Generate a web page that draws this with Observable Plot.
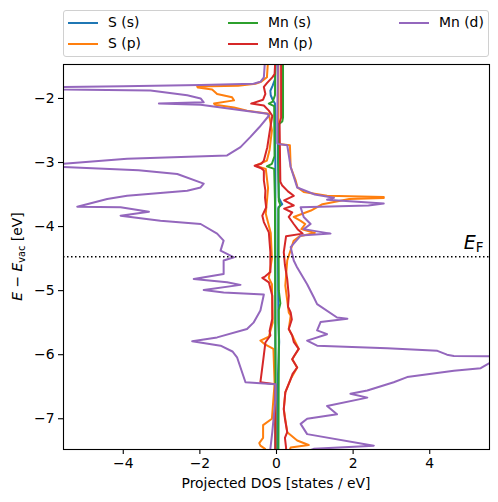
<!DOCTYPE html>
<html>
<head>
<meta charset="utf-8">
<script src="https://cdn.jsdelivr.net/npm/d3@7"></script>
<script src="https://cdn.jsdelivr.net/npm/@observablehq/plot@0.6"></script>
<style>
  body { margin: 0; background: #fff; }
  #wrap { position: relative; width: 498px; height: 502px; font-family: "DejaVu Sans", sans-serif; }
  #legend { position: absolute; left: 63px; top: 10px; width: 424px; height: 45px;
            border: 1px solid #d0d0d0; border-radius: 3px; background: rgba(255,255,255,0.8); box-sizing: content-box; }
  .item { position: absolute; height: 16px; }
  .swatch { position: absolute; left: 0; top: 7px; width: 30px; height: 2px; }
  .label { position: absolute; left: 40px; top: -1px; font-size: 13.9px; line-height: 16px; white-space: nowrap; color: #000; }
</style>
</head>
<body>
<div id="wrap"><div id="legend"></div></div>
<script>
// ---------------- data ----------------
const seriesNames = ["S (s)", "S (p)", "Mn (s)", "Mn (p)", "Mn (d)"];
const seriesColors = ["#1f77b4", "#ff7f0e", "#2ca02c", "#d62728", "#9467bd"];
const xTicks = [-4, -2, 0, 2, 4];
const yTicks = [-7, -6, -5, -4, -3, -2];
const fermiLevel = -4.47;

// each point: [energy (eV), projected DOS]; positive = spin up, negative = spin down
const S_s_up = [[-1.40,0.04],[-2.40,0.04],[-3.00,0.04],[-3.55,0.06],[-3.62,0.12],[-3.65,0.15],[-3.70,0.05],[-4.50,0.04],[-5.50,0.05],[-5.80,0.07],[-5.95,0.06],[-6.30,0.04],[-7.55,0.03]];
const S_s_down = [[-1.40,-0.02],[-1.70,-0.04],[-1.80,-0.10],[-1.88,-0.16],[-1.95,-0.15],[-2.02,-0.10],[-2.08,-0.04],[-3.00,-0.03],[-7.55,-0.03]];

const S_p_up = [[-1.40,0.05],[-2.68,0.05],[-2.71,0.06],[-2.73,0.35],[-3.07,0.37],[-3.28,0.50],[-3.39,0.55],[-3.46,0.71],[-3.52,1.32],[-3.54,2.80],[-3.555,2.80],[-3.57,1.90],[-3.65,1.20],[-3.75,0.90],[-3.85,0.45],[-3.91,0.63],[-3.96,0.75],[-4.04,0.65],[-4.10,1.00],[-4.15,0.60],[-4.22,0.45],[-4.53,0.28],[-4.92,0.23],[-5.34,0.32],[-5.39,0.37],[-5.60,0.32],[-5.70,0.41],[-5.91,0.58],[-6.07,0.41],[-6.20,0.54],[-6.38,0.37],[-6.59,0.23],[-6.85,0.19],[-7.21,0.28],[-7.34,0.54],[-7.41,0.84],[-7.45,0.37],[-7.55,0.30]];
const S_p_down = [[-1.40,-0.22],[-1.67,-0.25],[-1.74,-0.40],[-1.77,-0.55],[-1.80,-1.00],[-1.815,-2.07],[-1.83,-2.05],[-1.86,-1.68],[-1.93,-1.55],[-1.98,-1.16],[-2.03,-1.11],[-2.08,-1.63],[-2.10,-1.60],[-2.14,-1.11],[-2.19,-0.77],[-2.24,-0.20],[-2.50,-0.12],[-2.80,-0.18],[-2.97,-0.25],[-3.05,-0.55],[-3.10,-0.28],[-3.40,-0.22],[-3.80,-0.28],[-4.10,-0.15],[-4.50,-0.12],[-4.80,-0.20],[-4.90,-0.12],[-5.50,-0.10],[-5.72,-0.20],[-5.78,-0.42],[-5.84,-0.30],[-5.91,-0.08],[-6.45,-0.05],[-7.00,-0.12],[-7.10,-0.35],[-7.30,-0.35],[-7.38,-0.45],[-7.42,-0.42],[-7.47,-0.30],[-7.55,-0.30]];

const Mn_s_up = [[-1.40,0.17],[-2.30,0.17],[-2.36,0.15],[-2.40,0.06],[-3.00,0.05],[-3.60,0.06],[-3.66,0.10],[-3.72,0.05],[-5.00,0.06],[-5.20,0.10],[-5.30,0.06],[-6.00,0.06],[-7.55,0.05]];
const Mn_s_down = [[-1.40,-0.03],[-1.95,-0.04],[-2.05,-0.10],[-2.08,-0.20],[-2.12,-0.06],[-2.90,-0.05],[-3.02,-0.12],[-3.06,-0.25],[-3.10,-0.06],[-3.60,-0.04],[-7.55,-0.02]];

const Mn_p_up = [[-1.40,0.12],[-2.30,0.12],[-2.38,0.08],[-3.30,0.10],[-3.36,0.15],[-3.45,0.30],[-3.52,0.45],[-3.59,0.20],[-3.67,0.45],[-3.72,0.20],[-3.78,0.41],[-3.85,0.32],[-3.96,0.45],[-4.04,0.55],[-4.11,0.68],[-4.15,0.25],[-4.40,0.19],[-4.60,0.22],[-4.82,0.28],[-5.08,0.32],[-5.25,0.30],[-5.34,0.37],[-5.45,0.40],[-5.60,0.32],[-5.70,0.41],[-5.80,0.45],[-5.91,0.58],[-6.00,0.48],[-6.07,0.41],[-6.20,0.54],[-6.30,0.42],[-6.38,0.37],[-6.59,0.23],[-6.85,0.19],[-7.00,0.22],[-7.21,0.28],[-7.30,0.22],[-7.45,0.25],[-7.55,0.25]];
const Mn_p_down = [[-1.40,-0.03],[-1.62,-0.05],[-1.67,-0.11],[-1.76,-0.25],[-1.82,-0.33],[-1.93,-0.29],[-2.02,-0.35],[-2.08,-0.66],[-2.11,-0.33],[-2.19,-0.20],[-2.27,-0.11],[-2.45,-0.16],[-2.76,-0.24],[-2.97,-0.33],[-3.02,-0.40],[-3.05,-0.57],[-3.09,-0.40],[-3.125,-0.33],[-3.28,-0.33],[-3.44,-0.29],[-3.55,-0.30],[-3.70,-0.27],[-3.83,-0.37],[-3.93,-0.33],[-4.09,-0.20],[-4.40,-0.16],[-4.71,-0.16],[-4.78,-0.30],[-4.80,-0.37],[-4.87,-0.20],[-5.08,-0.11],[-5.44,-0.11],[-5.63,-0.18],[-5.70,-0.16],[-5.81,-0.29],[-6.10,-0.35],[-6.43,-0.42],[-6.46,-0.03],[-7.55,-0.03]];

const Mn_d_up = [[-1.40,0.04],[-2.30,0.02],[-2.70,0.02],[-2.71,0.05],[-2.73,0.28],[-3.07,0.37],[-3.39,0.54],[-3.50,1.00],[-3.55,1.50],[-3.58,1.32],[-3.64,2.80],[-3.67,2.40],[-3.70,0.63],[-3.85,0.71],[-3.96,0.89],[-4.04,0.71],[-4.11,1.41],[-4.14,0.63],[-4.32,0.37],[-4.53,0.45],[-4.64,0.54],[-4.90,0.80],[-5.10,0.97],[-5.21,1.06],[-5.42,1.58],[-5.44,1.85],[-5.49,1.15],[-5.62,1.06],[-5.68,1.32],[-5.78,0.80],[-5.86,1.06],[-5.90,2.89],[-5.94,4.20],[-6.00,4.45],[-6.02,4.63],[-6.03,6.20],[-6.06,5.60],[-6.08,6.20],[-6.12,5.60],[-6.15,5.50],[-6.21,5.33],[-6.25,4.63],[-6.35,3.41],[-6.43,3.06],[-6.56,2.37],[-6.61,1.93],[-6.67,2.37],[-6.80,1.32],[-6.93,1.58],[-7.00,0.80],[-7.08,0.63],[-7.24,0.80],[-7.42,2.54],[-7.47,0.97],[-7.55,0.60]];
const Mn_d_down = [[-1.40,-0.30],[-1.67,-0.33],[-1.74,-0.42],[-1.77,-0.60],[-1.79,-1.98],[-1.81,-4.00],[-1.82,-5.55],[-1.84,-6.50],[-1.86,-5.55],[-1.875,-3.29],[-1.95,-2.33],[-2.00,-1.98],[-2.06,-1.90],[-2.08,-3.07],[-2.10,-1.98],[-2.24,-0.24],[-2.27,-0.20],[-2.45,-0.45],[-2.60,-0.68],[-2.76,-0.94],[-2.89,-1.29],[-2.94,-3.90],[-3.02,-5.56],[-3.05,-6.30],[-3.07,-5.56],[-3.12,-3.60],[-3.18,-2.59],[-3.33,-1.90],[-3.39,-1.98],[-3.44,-2.33],[-3.52,-3.90],[-3.57,-4.42],[-3.69,-5.20],[-3.70,-4.07],[-3.77,-3.33],[-3.83,-4.07],[-3.91,-3.03],[-3.96,-1.98],[-4.11,-1.55],[-4.22,-1.38],[-4.375,-1.46],[-4.48,-1.11],[-4.53,-1.38],[-4.74,-1.38],[-4.82,-2.16],[-4.87,-1.29],[-4.91,-0.94],[-4.99,-1.90],[-5.03,-1.38],[-5.06,-0.33],[-5.31,-0.42],[-5.50,-0.60],[-5.60,-0.77],[-5.73,-1.55],[-5.79,-2.20],[-5.86,-1.46],[-5.95,-1.15],[-6.04,-1.03],[-6.43,-0.81],[-6.46,-0.03],[-6.70,-0.03],[-6.95,-0.07],[-7.21,-0.11],[-7.47,-0.16],[-7.55,-0.17]];

const curves = [
  ["S (s)", "up", S_s_up], ["S (s)", "down", S_s_down],
  ["S (p)", "up", S_p_up], ["S (p)", "down", S_p_down],
  ["Mn (s)", "up", Mn_s_up], ["Mn (s)", "down", Mn_s_down],
  ["Mn (p)", "up", Mn_p_up], ["Mn (p)", "down", Mn_p_down],
  ["Mn (d)", "up", Mn_d_up], ["Mn (d)", "down", Mn_d_down]
];
const rows = curves.flatMap(([series, spin, pts]) =>
  pts.map(([energy, dos]) => ({energy, dos, series, curve: series + " " + spin})));

const fmt = d => (d < 0 ? "\u2212" : "") + Math.abs(d);

// ---------------- chart ----------------
const chart = Plot.plot({
  width: 498, height: 502,
  marginLeft: 63, marginRight: 9, marginTop: 64, marginBottom: 53,
  style: {fontFamily: "'DejaVu Sans', sans-serif", fontSize: "13.9px", color: "black", background: "white", overflow: "visible"},
  x: {domain: [-5.56, 5.56]},
  y: {domain: [-7.48, -1.47]},
  color: {domain: seriesNames, range: seriesColors},
  marks: [
    Plot.line(rows, {x: "dos", y: "energy", z: "curve", stroke: "series", strokeWidth: 2, clip: true}),
    Plot.ruleY([fermiLevel], {stroke: "black", strokeWidth: 1.5, strokeDasharray: "1.5,2.5"}),
    Plot.frame({stroke: "black", strokeWidth: 1.1}),
    Plot.axisX({ticks: xTicks, tickFormat: fmt, tickSize: 5, tickPadding: 4, label: null, strokeWidth: 1.1}),
    Plot.axisY({ticks: yTicks, tickFormat: fmt, tickSize: 5, tickPadding: 4, label: null, strokeWidth: 1.1})
  ]
});
document.getElementById("wrap").prepend(chart);

const svg = d3.select(chart);
const xs = chart.scale("x"), ys = chart.scale("y");

// x axis label
svg.append("text").attr("x", xs.apply(0)).attr("y", 488).attr("text-anchor", "middle")
  .attr("font-size", "13.9px").attr("fill", "black").text("Projected DOS [states / eV]");

// y axis label
const yl = svg.append("text").attr("transform", `translate(22,${(ys.apply(-1.47) + ys.apply(-7.48)) / 2}) rotate(-90)`)
  .attr("text-anchor", "middle").attr("font-size", "13.9px").attr("fill", "black");
yl.append("tspan").attr("font-style", "italic").text("E");
yl.append("tspan").text(" \u2212 ");
yl.append("tspan").attr("font-style", "italic").text("E");
yl.append("tspan").attr("font-size", "9.7px").attr("dy", 3).text("vac");
yl.append("tspan").attr("dy", -3).text(" [eV]");

// Fermi level label
const ef = svg.append("text").attr("x", xs.apply(5.42)).attr("y", ys.apply(fermiLevel) - 7)
  .attr("text-anchor", "end").attr("font-size", "19px").attr("fill", "black");
ef.append("tspan").attr("font-style", "italic").text("E");
ef.append("tspan").attr("font-size", "13.5px").attr("dy", 3).text("F");

// legend (matplotlib-style, 3 columns filled column-wise)
const legendPos = [[4, 4], [4, 25], [164, 4], [164, 25], [335, 4]];
const legend = d3.select("#legend");
seriesNames.forEach((name, i) => {
  const it = legend.append("div").attr("class", "item")
    .style("left", legendPos[i][0] + "px").style("top", legendPos[i][1] + "px");
  it.append("div").attr("class", "swatch").style("background", seriesColors[i]);
  it.append("div").attr("class", "label").text(name);
});
</script>
</body>
</html>
